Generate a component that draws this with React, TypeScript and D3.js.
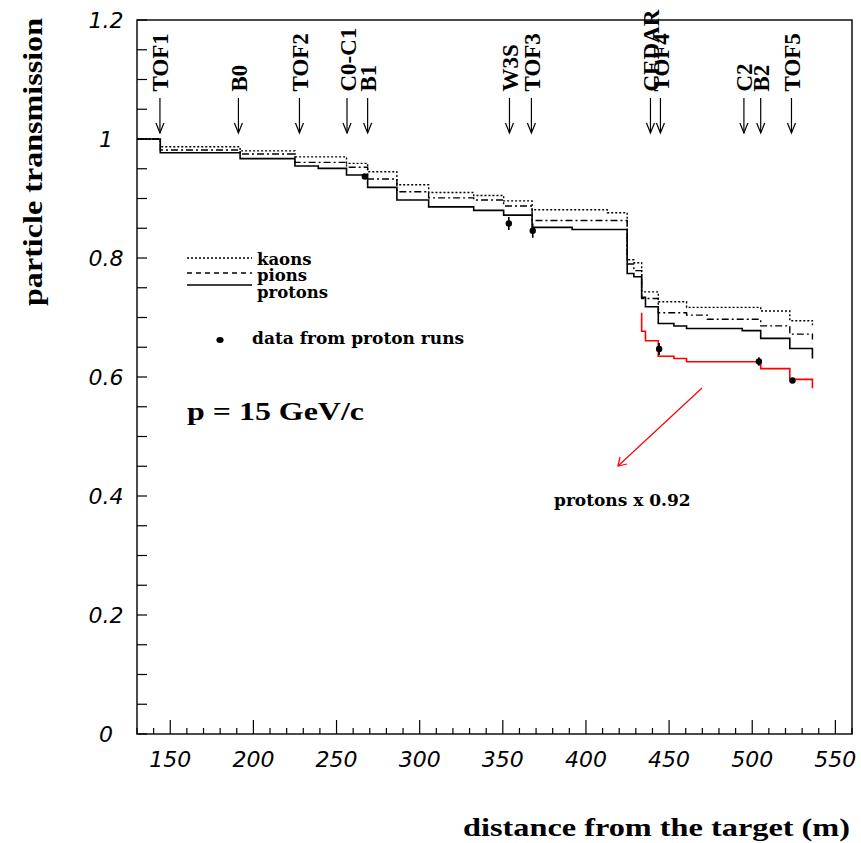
import React from "react";
import * as d3 from "d3";

// ---- data ----
const edges = [130, 144, 192, 225, 239, 256, 268.7, 286.3, 305.4, 332.5, 350.5, 367.6, 391.7, 412.8, 424.8, 428.8, 433.5, 435.8, 443.5, 452.9, 460.5, 473, 494, 505.1, 522.6, 536.2];
const kaons = [1.0, 0.987, 0.98, 0.97, 0.97, 0.959, 0.945, 0.923, 0.91, 0.905, 0.896, 0.881, 0.881, 0.876, 0.797, 0.792, 0.743, 0.743, 0.7265, 0.7265, 0.717, 0.717, 0.717, 0.711, 0.6946];
const pions = [1.0, 0.9815, 0.9748, 0.9607, 0.9607, 0.9524, 0.9328, 0.9114, 0.901, 0.8975, 0.8874, 0.863, 0.863, 0.863, 0.79, 0.7787, 0.732, 0.732, 0.708, 0.708, 0.704, 0.697, 0.697, 0.686, 0.672];
const protons = [1.0, 0.977, 0.967, 0.9546, 0.9507, 0.9395, 0.9187, 0.8975, 0.886, 0.88, 0.872, 0.8515, 0.848, 0.848, 0.774, 0.7686, 0.734, 0.718, 0.69, 0.6857, 0.6814, 0.6814, 0.678, 0.665, 0.648];
const seriesEnd = { kaons: 0.687, pions: 0.663, protons: 0.631 };

const scaledEdges = [433.5, 435.8, 443.5, 452.9, 460.5, 505.1, 522.6, 536.2];
const scaledProtons = [0.677, 0.661, 0.635, 0.631, 0.6256, 0.614, 0.596];
const scaledTop = 0.708;
const scaledEnd = 0.581;

const dataX = [267, 353.6, 368, 444, 504, 524.2];
const dataY = [0.937, 0.858, 0.846, 0.647, 0.626, 0.594];
const dataErr = [0.004, 0.011, 0.012, 0.01, 0.007, 0.004];

const markerNames = ["TOF1", "B0", "TOF2", "C0-C1", "B1", "W3S", "TOF3", "CEDAR", "TOF4", "C2", "B2", "TOF5"];
const markerPos = [143.8, 191, 227.7, 256.3, 268.7, 354, 367.2, 438.8, 444.8, 495, 505.1, 523.6];

const xTickLabels = [150, 200, 250, 300, 350, 400, 450, 500, 550];
const yTickLabels = [0, 0.2, 0.4, 0.6, 0.8, 1, 1.2];

// ---- layout ----
const W = 861, H = 843;
const x = d3.scaleLinear().domain([130, 560]).range([137, 852]);
const y = d3.scaleLinear().domain([0, 1.2]).range([734, 20]);

function stepPath(ed: number[], vals: number[], end: number, top?: number) {
  const pts: [number, number][] = [];
  if (top !== undefined) pts.push([ed[0], top]);
  vals.forEach((v, i) => pts.push([ed[i], v]));
  pts.push([ed[ed.length - 1], vals[vals.length - 1]]);
  pts.push([ed[ed.length - 1], end]);
  return d3.line<[number, number]>().x(d => x(d[0])).y(d => y(d[1])).curve(d3.curveStepAfter)(pts) || "";
}

const serif = "'Liberation Serif', 'Times New Roman', serif";
const dserif = "'DejaVu Serif', serif";
const tickFont = "'DejaVu Sans', sans-serif";

export default function App() {
  const xMinor = d3.range(130, 561, 10);
  const yMinor = d3.range(0, 1.2001, 0.05);
  return (
    <svg width={W} height={H} style={{ position: "absolute", left: 0, top: 0, background: "#fff" }}>
      <rect x={0} y={0} width={W} height={H} fill="#fff" />
      {/* frame */}
      <rect x={x(130)} y={y(1.2)} width={x(560) - x(130)} height={y(0) - y(1.2)} fill="none" stroke="#000" strokeWidth={1.4} />
      {/* x ticks */}
      {xMinor.map(v => (
        <line key={"xt" + v} x1={x(v)} x2={x(v)} y1={y(0)} y2={y(0) - (v % 50 === 0 ? 14 : 6)} stroke="#000" strokeWidth={1.2} />
      ))}
      {xTickLabels.map(v => (
        <text key={"xl" + v} x={x(v)} y={767} textAnchor="middle" fontFamily={tickFont} fontStyle="italic" fontSize={22}>{v}</text>
      ))}
      {/* y ticks */}
      {yMinor.map((v, i) => (
        <line key={"yt" + i} x1={x(130)} x2={x(130) + 10} y1={y(v)} y2={y(v)} stroke="#000" strokeWidth={1.2} />
      ))}
      {yTickLabels.map(v => (
        <text key={"yl" + v} x={106} y={y(v)} dy="0.36em" textAnchor="middle" fontFamily={tickFont} fontStyle="italic" fontSize={22}>{v}</text>
      ))}
      {/* axis titles */}
      <text x={850} y={836} textAnchor="end" fontFamily={serif} fontWeight="bold" fontSize={26} textLength={387} lengthAdjust="spacingAndGlyphs">distance from the target (m)</text>
      <text transform="translate(42,306) rotate(-90)" textAnchor="start" fontFamily={serif} fontWeight="bold" fontSize={27} textLength={288} lengthAdjust="spacingAndGlyphs">particle transmission</text>

      {/* markers */}
      {markerNames.map((n, i) => {
        const px = x(markerPos[i]);
        return (
          <g key={"m" + n}>
            <text transform={`translate(${px + 8.5},91.5) rotate(-90)`} textAnchor="start" fontFamily={serif} fontWeight="bold" fontSize={23}>{n}</text>
            <line x1={px} x2={px} y1={98} y2={133} stroke="#000" strokeWidth={1.2} />
            <polyline points={`${px - 4},123 ${px},133 ${px + 4},123`} fill="none" stroke="#000" strokeWidth={1.2} />
          </g>
        );
      })}

      {/* curves */}
      <path d={stepPath(edges, kaons, seriesEnd.kaons)} fill="none" stroke="#000" strokeWidth={1.4} strokeDasharray="2,2" />
      <path d={stepPath(edges, pions, seriesEnd.pions)} fill="none" stroke="#000" strokeWidth={1.4} strokeDasharray="7,3,2,3" />
      <path d={stepPath(edges, protons, seriesEnd.protons)} fill="none" stroke="#000" strokeWidth={1.6} />
      <path d={stepPath(scaledEdges, scaledProtons, scaledEnd, scaledTop)} fill="none" stroke="#ff0000" strokeWidth={1.6} />

      {/* data points */}
      {dataX.map((dx, i) => (
        <g key={"d" + i}>
          <line x1={x(dx)} x2={x(dx)} y1={y(dataY[i] - dataErr[i])} y2={y(dataY[i] + dataErr[i])} stroke="#000" strokeWidth={1.6} />
          <circle cx={x(dx)} cy={y(dataY[i])} r={3.2} fill="#000" />
        </g>
      ))}

      {/* legend */}
      <line x1={187} x2={252} y1={258} y2={258} stroke="#000" strokeWidth={1.3} strokeDasharray="2,2" />
      <line x1={187} x2={252} y1={273} y2={273} stroke="#000" strokeWidth={1.3} strokeDasharray="5,4" />
      <line x1={187} x2={252} y1={285} y2={285} stroke="#000" strokeWidth={1.5} />
      <text x={257} y={265} fontFamily={dserif} fontWeight="bold" fontSize={16.5}>kaons</text>
      <text x={257} y={281} fontFamily={dserif} fontWeight="bold" fontSize={16.5}>pions</text>
      <text x={257} y={298} fontFamily={dserif} fontWeight="bold" fontSize={16.5}>protons</text>
      <ellipse cx={220} cy={340} rx={3.6} ry={3} fill="#000" />
      <text x={252} y={344} fontFamily={dserif} fontWeight="bold" fontSize={17}>data from proton runs</text>

      <text x={187} y={420} fontFamily={serif} fontWeight="bold" fontSize={26} textLength={177} lengthAdjust="spacingAndGlyphs">p = 15 GeV/c</text>

      {/* red annotation */}
      <line x1={702} x2={618} y1={388} y2={466} stroke="#ff0000" strokeWidth={1.2} />
      <polyline points="620,457 618,466 627,464" fill="none" stroke="#ff0000" strokeWidth={1.2} />
      <text x={554} y={506} fontFamily={dserif} fontWeight="bold" fontSize={17}>protons x 0.92</text>
    </svg>
  );
}
